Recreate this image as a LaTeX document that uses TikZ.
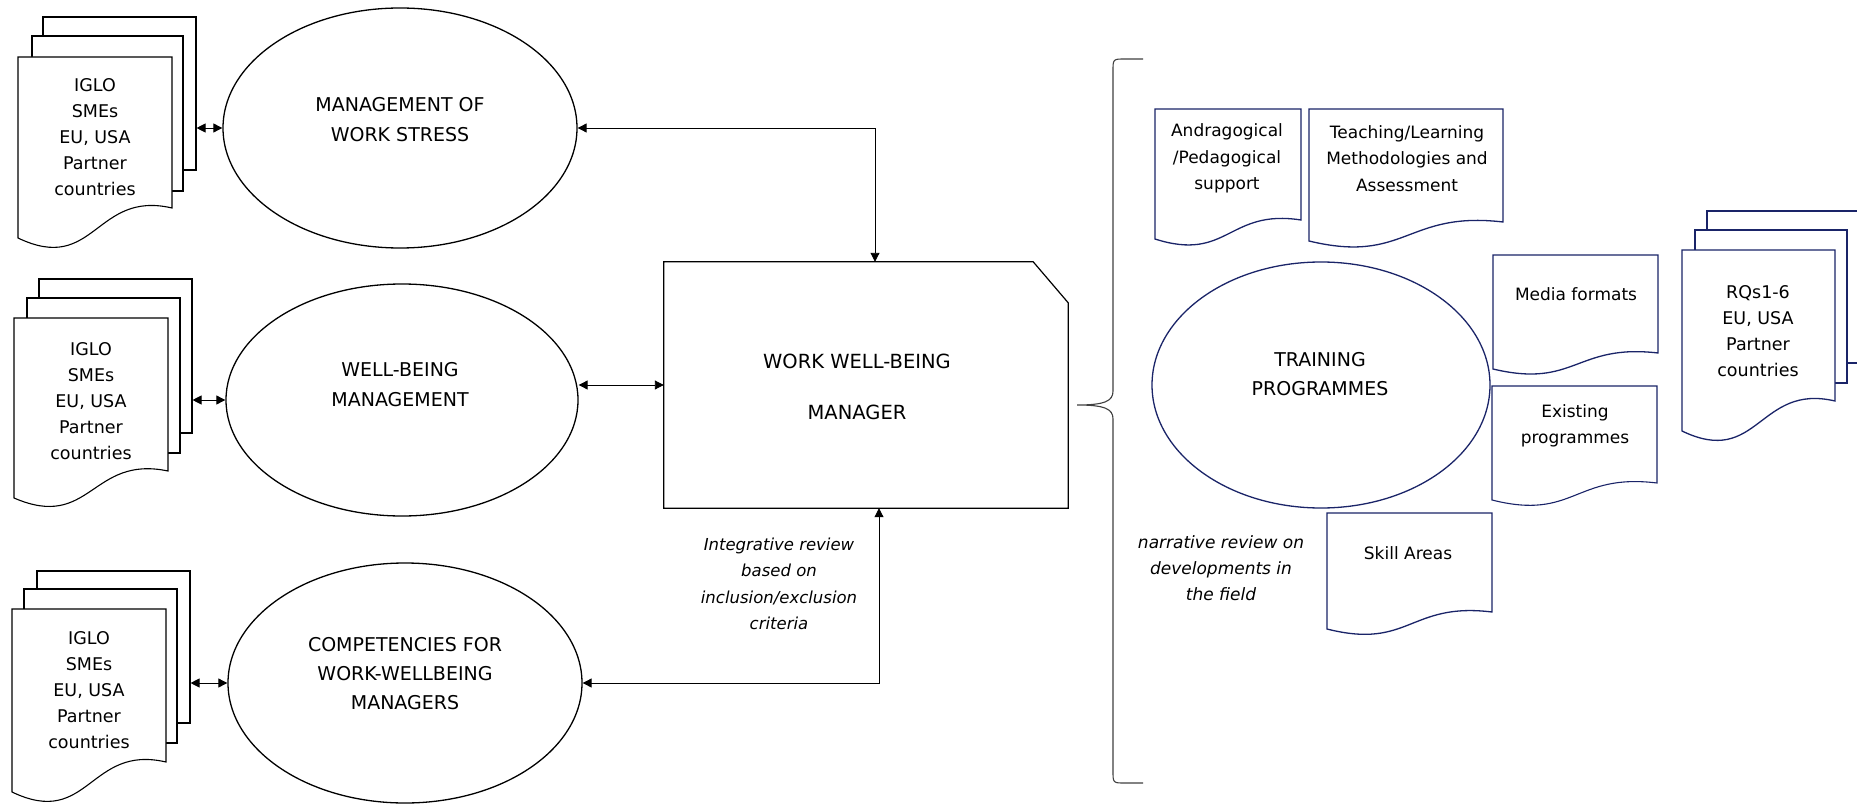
\documentclass[tikz,border=0pt]{standalone}
\usepackage{fontspec}
\setmainfont{DejaVu Sans}
\usetikzlibrary{shapes.geometric,arrows.meta}

\definecolor{navy}{RGB}{26,36,104}

\tikzset{
  page/.style={draw, fill=white, line width=1.1pt},
  topic/.style={ellipse, draw, line width=1.3pt, inner sep=0pt},
  dlink/.style={<->, >={Triangle[length=9pt,width=9pt]}, line width=0.9pt},
  doctext/.style={align=center, font=\fontsize{17.5}{26}\selectfont},
  boxtext/.style={align=center, font=\fontsize{17}{26.5}\selectfont},
  bigtext/.style={align=center, font=\fontsize{19}{30}\selectfont},
  note/.style={align=center, font=\fontsize{16.5}{26.5}\selectfont\itshape}
}

% page with wavy bottom: left, top, right, right bottom, left bottom
\newcommand{\wavedoc}[6][]{%
  \filldraw[fill=white, line width=1.1pt, #1] (#2,#3) -- (#4,#3) -- (#4,#5)
    .. controls ({(#2+#4)/2},{#5-0.6*(#6-#5)}) and ({(#2+#4)/2},{#6+1.23*(#6-#5)}) .. (#2,#6) -- cycle;}

\begin{document}
\begin{tikzpicture}[x=1pt, y=-1pt]

        \useasboundingbox (0,0) rectangle (1857,805);
        \clip (0,0) rectangle (1857,805);
        \fill[white] (0,0) rectangle (1857,805);

        % sources
        \node[page, minimum width=153pt, minimum height=153pt] (s1c) at (119.5,93.5) {};
        \node[page, minimum width=151pt, minimum height=155pt] (s1b) at (107.5,113.5) {};
        \wavedoc{18}{57}{172}{208}{238}
        \node[doctext] (s1t) at (95,137.5) {IGLO\\SMEs\\EU, USA\\Partner\\countries};

        \node[page, minimum width=153pt, minimum height=154pt] (s2c) at (115.5,356) {};
        \node[page, minimum width=153pt, minimum height=155pt] (s2b) at (103.5,375.5) {};
        \wavedoc{14}{318}{168}{471}{498}
        \node[doctext] (s2t) at (91,401) {IGLO\\SMEs\\EU, USA\\Partner\\countries};

        \node[page, minimum width=153pt, minimum height=152pt] (s3c) at (113.5,647) {};
        \node[page, minimum width=153pt, minimum height=154pt] (s3b) at (100.5,666) {};
        \wavedoc{12}{609}{166}{762}{792}
        \node[doctext] (s3t) at (89,690) {IGLO\\SMEs\\EU, USA\\Partner\\countries};

        % topics
        \node[topic, minimum width=354pt, minimum height=240pt] (e1) at (400,128) {};
        \node[bigtext] (e1t) at (400,120) {MANAGEMENT OF\\WORK STRESS};

        \node[topic, minimum width=352pt, minimum height=232pt] (e2) at (402,400) {};
        \node[bigtext] (e2t) at (400,385) {WELL-BEING\\MANAGEMENT};

        \node[topic, minimum width=354pt, minimum height=240pt] (e3) at (405,683) {};
        \node[bigtext, font=\fontsize{19}{29}\selectfont] (e3t) at (405,674) {COMPETENCIES FOR\\WORK-WELLBEING\\MANAGERS};

        % manager
        \node[minimum width=404pt, minimum height=246pt] (wwm) at (866,385) {};
        \draw[line width=1.2pt] (wwm.north west) -- ([xshift=-35pt]wwm.north east)
        -- ([yshift=-41pt]wwm.north east) -- (wwm.south east) -- (wwm.south west) -- cycle;
        \node[align=center, font=\fontsize{19.5}{51}\selectfont] (wwmt) at (857,386.5) {WORK WELL-BEING\\MANAGER};

        \node[note] (integ) at (779,584) {Integrative review\\based on\\inclusion/exclusion\\criteria};

        % #######################################

        \draw[dlink] (s1c.east |- e1.west) -- (e1.west);
        \draw[dlink] (s2c.east |- e2.west) -- (e2.west);
        \draw[dlink] (s3c.east |- e3.west) -- (e3.west);

        \draw[dlink] (e1.east) -| ([xshift=9pt]wwm.north);
        \draw[dlink] (e2.east |- wwm.west) -- (wwm.west);
        \draw[dlink] (e3.east) -| ([xshift=13pt]wwm.south);

        % #######################################

        \draw[line width=1.1pt, black!75] (1143,59) -- (1125,59) .. controls (1113,59) .. (1113,71)
        -- (1113,391) .. controls (1113,401) and (1105,405) .. (1077,405)
        .. controls (1105,405) and (1113,409) .. (1113,419)
        -- (1113,771) .. controls (1113,783) .. (1125,783) -- (1143,783);

        \node[topic, draw=navy, minimum width=338pt, minimum height=246pt] (train) at (1321,385) {};
        \node[align=center, font=\fontsize{19}{29}\selectfont] (traint) at (1320,374.5) {TRAINING\\PROGRAMMES};

        \wavedoc[draw=navy, line width=1.3pt]{1155}{109}{1301}{220}{239}
        \node[boxtext] (andra) at (1227,158.5) {Andragogical\\/Pedagogical\\support};

        \wavedoc[draw=navy, line width=1.3pt]{1309}{109}{1503}{222}{241}
        \node[boxtext] (teach) at (1407,158.5) {Teaching/Learning\\Methodologies and\\Assessment};

        \wavedoc[draw=navy, line width=1.3pt]{1493}{255}{1658}{353}{369}
        \node[boxtext] (media) at (1576,294) {Media formats};

        \wavedoc[draw=navy, line width=1.1pt]{1492}{386}{1657}{483}{500}
        \node[boxtext] (exist) at (1575,426) {Existing\\programmes};

        \wavedoc[draw=navy, line width=1.3pt]{1327}{513}{1492}{612}{629}
        \node[boxtext] (skill) at (1408,553) {Skill Areas};

        \node[note, font=\fontsize{17}{26}\selectfont\itshape] (narr) at (1221,568) {narrative review on\\developments in\\the field};

        \node[page, draw=navy, line width=1.3pt, minimum width=155pt, minimum height=152pt] (rqc) at (1784.5,287) {};
        \node[page, draw=navy, line width=1.3pt, minimum width=152pt, minimum height=153pt] (rqb) at (1771,306.5) {};
        \wavedoc[draw=navy, line width=1.3pt]{1682}{250}{1835}{401}{431}
        \node[doctext] (rqt) at (1758,331.5) {RQs1-6\\EU, USA\\Partner\\countries};

\end{tikzpicture}
\end{document}
